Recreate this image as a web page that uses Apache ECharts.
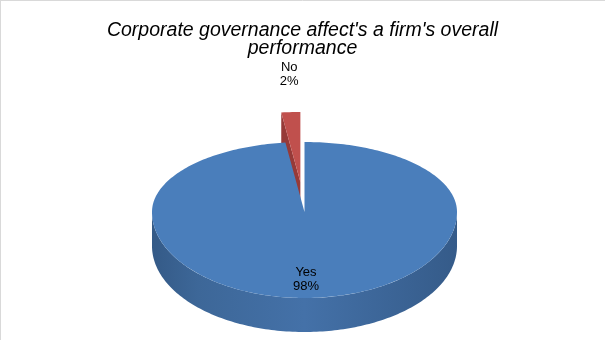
<!DOCTYPE html>
<html>
<head>
<meta charset="utf-8">
<script src="https://cdn.jsdelivr.net/npm/echarts@6/dist/echarts.min.js"></script>
<style>
html,body{margin:0;padding:0;background:#fff;}
#chart{width:605px;height:340px;}
</style>
</head>
<body>
<div id="chart"></div>
<script>
// ---- data ----
const titleText = "Corporate governance affect's a firm's overall\nperformance";
const categories = ['Yes', 'No'];
const values = [98, 2];

// ---- look / geometry (not data) ----
const geom = { cx: 304.5, cy: 212, rx: 152.5, ryB: 70, ryF: 86, depth: 34 };
const explode = [0, 0.43];
const topColors = ['#4A7EBB', '#C0504D'];
const wallColors = ['#3A6290', '#963A38'];
const sideStops = [
  [['#355b89', 0], ['#4471a8', 0.5], ['#3d6798', 0.85], ['#345a87', 1]],
  [['#8e3634', 0], ['#a8423f', 0.5], ['#8e3634', 1]]
];

const total = values.reduce((a, b) => a + b, 0);
const cum = [0];
values.forEach((v, i) => cum.push(cum[i] + v));

function renderItem(params, api) {
  const idx = params.dataIndex;
  const v = api.value(1);
  const start = cum[idx] / total * Math.PI * 2;
  const end = start + v / total * Math.PI * 2;
  const mid = (start + end) / 2;
  const e = explode[idx];
  const g = geom;
  const ry = (t) => (Math.cos(t) > 0 ? g.ryB : g.ryF);
  const offx = e * g.rx * Math.sin(mid);
  const offy = -e * ry(mid) * Math.cos(mid);
  const P = (t, h, r, kx) => {
    r = r == null ? 1 : r;
    kx = kx == null ? 1 : kx;
    return [g.cx + offx + kx * r * g.rx * Math.sin(t), g.cy + offy - r * ry(t) * Math.cos(t) + h];
  };
  const C = (h) => [g.cx + offx, g.cy + offy + h];
  const arc = (a, b, h) => {
    const n = Math.max(4, Math.ceil(Math.abs(b - a) / 0.02));
    const pts = [];
    for (let i = 0; i <= n; i++) pts.push(P(a + (b - a) * i / n, h));
    return pts;
  };
  const base = Math.cos(mid) > 0.5 ? 0 : 10;
  const children = [];
  // radial walls (back-face culled)
  if (Math.sin(start) < -1e-6) {
    children.push({ type: 'polygon', z2: base + 1, shape: { points: [C(0), P(start, 0), P(start, g.depth), C(g.depth)] }, style: { fill: wallColors[idx] } });
  }
  if (Math.sin(end) > 1e-6) {
    children.push({ type: 'polygon', z2: base + 1, shape: { points: [C(0), P(end, 0), P(end, g.depth), C(g.depth)] }, style: { fill: wallColors[idx] } });
  }
  // outer side wall (front half)
  const a = Math.max(start, Math.PI / 2), b = Math.min(end, Math.PI * 1.5);
  if (b > a) {
    const pts = arc(a, b, 0).concat(arc(b, a, g.depth));
    children.push({
      type: 'polygon', z2: base + 2, shape: { points: pts },
      style: { fill: { type: 'linear', x: 1, y: 0, x2: 0, y2: 0, colorStops: sideStops[idx].map(s => ({ color: s[0], offset: s[1] })) } }
    });
  }
  // top face
  children.push({ type: 'polygon', z2: base + 3, shape: { points: [C(0)].concat(arc(start, end, 0)) }, style: { fill: topColors[idx] } });
  // label
  const share = v / total;
  const inside = share >= 0.05;
  const lp = inside ? P(mid, 0, 0.78, 0.2) : P(mid, 1, 1.55, 0.75);
  children.push({
    type: 'text', z2: 50, x: lp[0], y: lp[1],
    style: {
      text: categories[idx] + '\n' + Math.round(share * 100) + '%',
      fill: '#000', font: '13px "Liberation Sans", Arial, sans-serif',
      align: 'center', verticalAlign: 'middle', lineHeight: 14
    }
  });
  return { type: 'group', children };
}

const chart = echarts.init(document.getElementById('chart'), null, { renderer: 'canvas' });
chart.setOption({
  backgroundColor: '#fff',
  animation: false,
  title: {
    text: titleText, left: 'center', top: 17,
    textStyle: { fontFamily: '"Liberation Sans", Arial, sans-serif', fontStyle: 'italic', fontWeight: 'normal', fontSize: 19.5, lineHeight: 18, color: '#000' }
  },
  graphic: [
    { type: 'line', shape: { x1: 0.5, y1: 0, x2: 0.5, y2: 340 }, style: { stroke: '#d9d9d9', lineWidth: 1 } },
    { type: 'line', shape: { x1: 0, y1: 0.5, x2: 605, y2: 0.5 }, style: { stroke: '#d9d9d9', lineWidth: 1 } }
  ],
  series: [{
    type: 'custom',
    coordinateSystem: 'none',
    renderItem: renderItem,
    data: categories.map((c, i) => ({ name: c, value: [i, values[i]] }))
  }]
});
</script>
</body>
</html>
